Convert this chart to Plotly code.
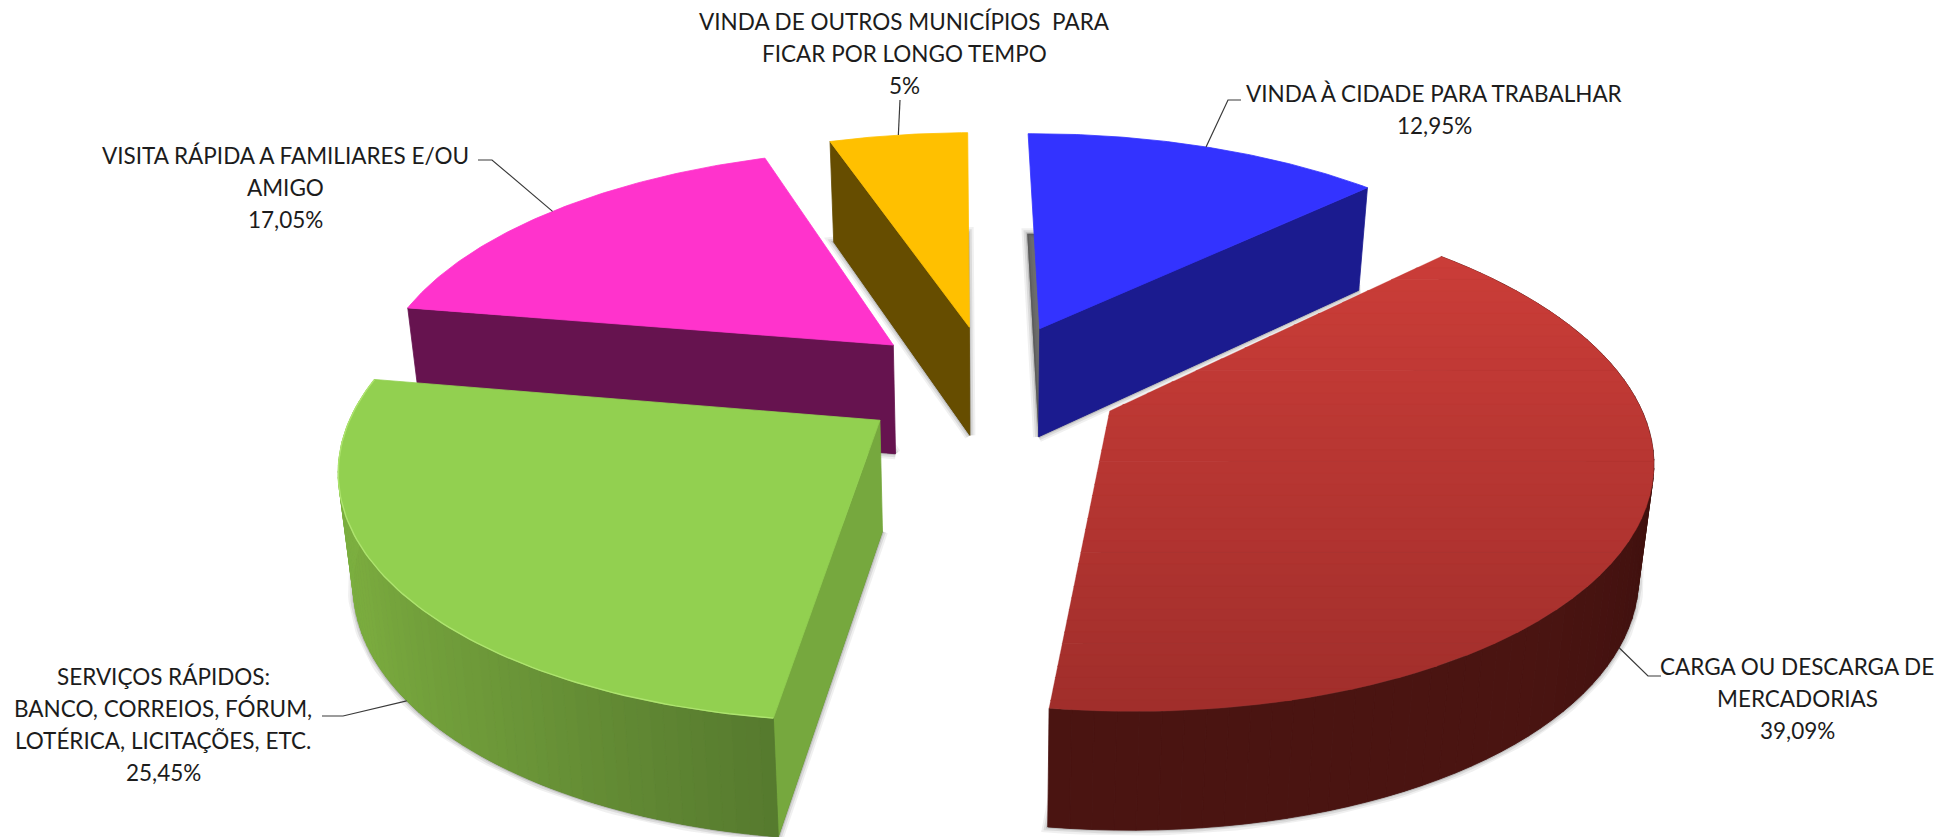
import math
import plotly.graph_objects as go

# ---- data
categories = [
    ["VINDA À CIDADE PARA TRABALHAR"],
    ["CARGA OU DESCARGA DE", "MERCADORIAS"],
    ["SERVIÇOS RÁPIDOS:", "BANCO, CORREIOS, FÓRUM,", "LOTÉRICA, LICITAÇÕES, ETC."],
    ["VISITA RÁPIDA A FAMILIARES E/OU", "AMIGO"],
    ["VINDA DE OUTROS MUNICÍPIOS  PARA", "FICAR POR LONGO TEMPO"],
]
values = [12.95, 39.09, 25.45, 17.05, 5]
value_labels = ["12,95%", "39,09%", "25,45%", "17,05%", "5%"]

# ---- styles
top_colors = ["#3333ff", None, "#92d050", "#ff33cc", "#ffc000"]
face_colors = ["#1b1b8f", None, "#76a83e", "#66134f", "#664d00"]
draw_order = [4, 0, 3, 2, 1]
face_side = {0: "end", 2: "start", 3: "start", 4: "start"}
rim_stops = {  # t = 0 at the far end of the arc, t = 1 at its start
    1: [(0.0, "#4a1411"), (0.35, "#4a1411"), (0.6, "#3f100e"), (0.8, "#4a1512"), (1.0, "#641d19")],
    2: [(0.0, "#7db242"), (0.4, "#7aab3e"), (0.7, "#6b9638"), (1.0, "#567a2e")],
}
red_top, red_bottom = "#cb3d38", "#a02e2b"
FONT = "Lato, Liberation Sans, sans-serif"
FONT_SIZE = 22.5

# ---- projection of the tilted pie
first_angle = math.radians(-0.6)
explode = [0.25, 0.247, 0.25, 0.245, 0.24]
radius = [1.0, 0.98, 0.97, 0.98, 1.0]
CX, CY, A, B, K = 990, 383, 533, 245, 0.17
H0, H1, BOTTOM_X = 110, 8, 0.977


def project(X, Y, bottom=False):
    w = 1 + K * Y
    x = A * X / w
    y = -B * Y / w
    if bottom:
        return CX + x * BOTTOM_X, CY + y + H0 - H1 * Y
    return CX + x, CY + y


total = sum(values)
spans, a0 = [], first_angle
for v in values:
    a1 = a0 + v / total * 2 * math.pi
    spans.append((a0, a1))
    a0 = a1


def offset(i):
    m = sum(spans[i]) / 2
    return explode[i] * math.sin(m), explode[i] * math.cos(m)


def rim(i, t, bottom=False):
    ox, oy = offset(i)
    return project(ox + radius[i] * math.sin(t), oy + radius[i] * math.cos(t), bottom)


def apex(i, bottom=False):
    return project(*offset(i), bottom)


def wedge(i, bottom=False, n=90):
    s, e = spans[i]
    pts = [apex(i, bottom)]
    pts += [rim(i, s + (e - s) * j / n, bottom) for j in range(n + 1)]
    return pts


def mix(c1, c2, t):
    a = [int(c1[k:k + 2], 16) for k in (1, 3, 5)]
    b = [int(c2[k:k + 2], 16) for k in (1, 3, 5)]
    return "#%02x%02x%02x" % tuple(round(p + (q - p) * t) for p, q in zip(a, b))


def ramp(stops, t):
    for (t0, c0), (t1, c1) in zip(stops, stops[1:]):
        if t <= t1:
            return mix(c0, c1, (t - t0) / (t1 - t0))
    return stops[-1][1]


def clip_y(pts, y, keep_below):
    out = []
    inside = (lambda p: p[1] >= y) if keep_below else (lambda p: p[1] <= y)
    for p, q in zip(pts, pts[1:] + pts[:1]):
        if inside(p):
            out.append(p)
        if inside(p) != inside(q):
            t = (y - p[1]) / (q[1] - p[1])
            out.append((p[0] + (q[0] - p[0]) * t, y))
    return out


fig = go.Figure()


def poly(pts, fill, line=None, width=0.8):
    fig.add_trace(go.Scatter(
        x=[p[0] for p in pts] + [pts[0][0]], y=[p[1] for p in pts] + [pts[0][1]],
        mode="lines", fill="toself", fillcolor=fill,
        line=dict(color=line or fill, width=width), hoverinfo="skip", showlegend=False))


def path(pts, color, width):
    fig.add_trace(go.Scatter(
        x=[p[0] for p in pts], y=[p[1] for p in pts], mode="lines",
        line=dict(color=color, width=width), hoverinfo="skip", showlegend=False))


for i in draw_order:
    # soft shadow around the bottom plane
    base = wedge(i, True)
    for w_, alpha in ((11, 0.07), (7, 0.10), (3, 0.16)):
        poly(base, "rgba(90,90,90,0.5)", f"rgba(40,40,40,{alpha})", w_)
    s, e = spans[i]
    # straight cut face
    if i in face_side:
        t = s if face_side[i] == "start" else e
        poly([apex(i), rim(i, t), rim(i, t, True), apex(i, True)], face_colors[i])
    # curved outer wall
    if i in rim_stops:
        n = 70
        for j in range(n):
            t0 = s + (e - s) * j / n
            t1 = s + (e - s) * (j + 1) / n
            col = ramp(rim_stops[i], 1 - (j + .5) / n)
            poly([rim(i, t0), rim(i, t1), rim(i, t1, True), rim(i, t0, True)], col)
    # top
    if top_colors[i]:
        poly(wedge(i), top_colors[i])
    else:
        top = wedge(i)
        ymin = min(p[1] for p in top)
        ymax = max(p[1] for p in top)
        bands = 40
        for b in range(bands):
            y0 = ymin + (ymax - ymin) * b / bands
            y1 = ymin + (ymax - ymin) * (b + 1) / bands
            piece = clip_y(clip_y(top, y0, True), y1 + 0.6, False)
            if len(piece) > 2:
                poly(piece, mix(red_top, red_bottom, (b + .5) / bands), width=0.3)
    if i == 2:
        path(wedge(i)[1:], "#aee46f", 1.4)

# ---- labels and leader lines
label_x = [1434, 1797, 163, 285, 904]
first_line_y = [93, 666, 676, 155, 21]
line_gap = 32
leader_mid = {
    0: ((1228, 100), (1241, 100), False),
    1: ((1648, 676), (1661, 676), True),
    2: ((343, 716), (322, 716), True),
    3: ((492, 160), (478, 160), False),
    4: ((900, 100), (900, 100), False),
}
for i, lines in enumerate(categories):
    rows = lines + [value_labels[i]]
    for r, txt in enumerate(rows):
        fig.add_annotation(x=label_x[i], y=first_line_y[i] + r * line_gap, text=txt,
                           showarrow=False, xanchor="center", yanchor="middle",
                           font=dict(family=FONT, size=FONT_SIZE, color="#1c1c1c"))
    m = sum(spans[i]) / 2
    p1, p2, on_bottom = leader_mid[i]
    path([rim(i, m, on_bottom), p1, p2], "#3a3a3a", 1.2)

fig.update_layout(
    width=1955, height=837, margin=dict(l=0, r=0, t=0, b=0),
    paper_bgcolor="white", plot_bgcolor="white", showlegend=False,
    xaxis=dict(range=[0, 1955], visible=False, fixedrange=True),
    yaxis=dict(range=[837, 0], visible=False, fixedrange=True),
)
fig.write_html("out.html", config={"displayModeBar": False},
               post_script="document.body.style.margin='0';document.body.style.overflow='hidden';")
